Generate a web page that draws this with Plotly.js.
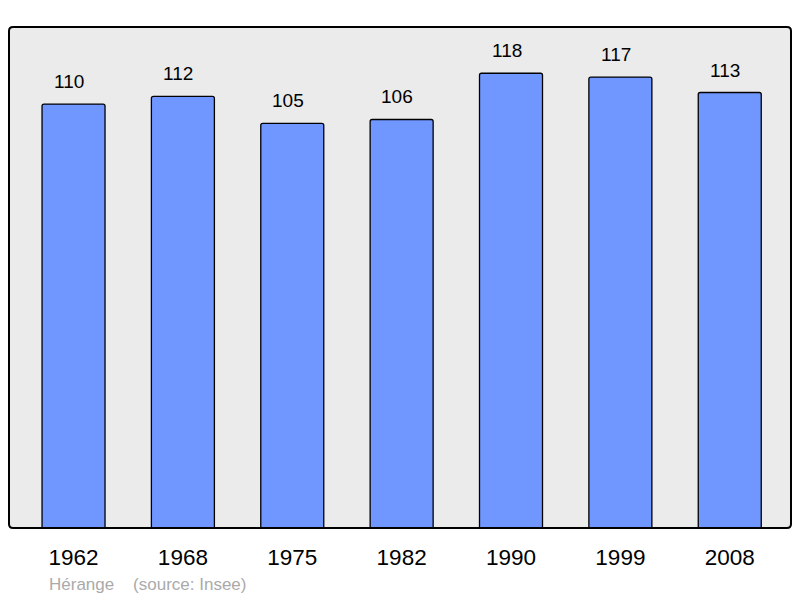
<!DOCTYPE html>
<html><head><meta charset="utf-8">
<script src="https://cdn.plot.ly/plotly-3.0.1.min.js"></script>
<style>html,body{margin:0;padding:0;background:#fff}</style>
</head><body>
<div id="chart" style="width:800px;height:598px"></div>
<script>
const years = ["1962","1968","1975","1982","1990","1999","2008"];
const population = [110,112,105,106,118,117,113];
const footer = "Hérange    (source: Insee)";

const FONT = "Liberation Sans, Arial, sans-serif";
const trace = {
  type: "bar",
  x: years,
  y: population,
  width: 0.576,
  marker: {color: "#7096ff", line: {color: "#000", width: 1.3}, cornerradius: 2},
  hoverinfo: "none"
};
const annotations = years.map((yr, i) => ({
  x: i, y: population[i], xref: "x", yref: "y",
  text: String(population[i]), showarrow: false,
  yanchor: "bottom", yshift: 10, xshift: -4.5,
  font: {family: FONT, size: 19, color: "#000"}
}));
annotations.push({
  xref: "paper", yref: "paper", x: 38/782, y: -0.112, xanchor: "left", yanchor: "middle",
  text: footer, showarrow: false,
  font: {family: FONT, size: 17, color: "#aaaaaa"}
});
// rounded frame around plot area (paper coordinates)
const rx = 4/782, ry = 4/501;
const framePath = `M ${rx},0 L ${1-rx},0 Q 1,0 1,${ry} L 1,${1-ry} Q 1,1 ${1-rx},1 L ${rx},1 Q 0,1 0,${1-ry} L 0,${ry} Q 0,0 ${rx},0 Z`;
const layout = {
  width: 800, height: 598,
  margin: {l: 9, r: 9, t: 27, b: 70},
  paper_bgcolor: "#fff",
  plot_bgcolor: "#ebebeb",
  showlegend: false,
  xaxis: {type: "category", range: [-0.59, 6.56], showgrid: false, zeroline: false,
          ticks: "outside", ticklen: 9, tickcolor: "rgba(0,0,0,0)",
          tickfont: {family: FONT, size: 22.5, color: "#000"},
          fixedrange: true},
  yaxis: {range: [0, 130], showgrid: false, zeroline: false, showticklabels: false, fixedrange: true},
  annotations: annotations,
  shapes: [{type: "path", xref: "paper", yref: "paper", path: framePath,
            line: {color: "#000", width: 2}, layer: "above"}]
};
Plotly.newPlot("chart", [trace], layout, {staticPlot: true, displayModeBar: false});
</script>
</body></html>
